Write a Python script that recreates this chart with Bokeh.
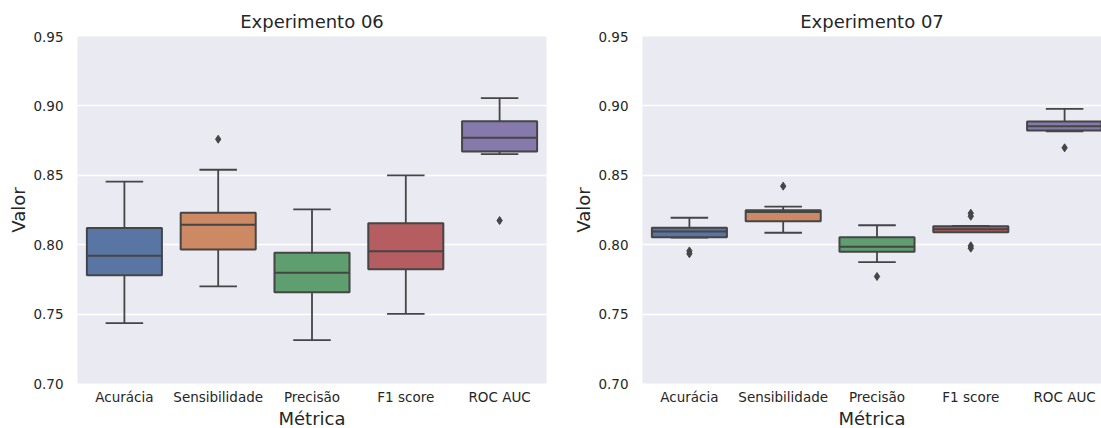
from bokeh.plotting import figure
from bokeh.layouts import row
from bokeh.models import FixedTicker, NumeralTickFormatter
from bokeh.embed import file_html
from bokeh.resources import INLINE

metrics = ["Acurácia", "Sensibilidade", "Precisão", "F1 score", "ROC AUC"]
colors = ["#5975A4", "#CC8963", "#5F9E6E", "#B55D60", "#857AAB"]
yticks = [0.70, 0.75, 0.80, 0.85, 0.90, 0.95]

# Experimento 06 box statistics
e06_lo = [0.7435, 0.770, 0.7312, 0.7502, 0.8652]
e06_q1 = [0.778, 0.7965, 0.7658, 0.7824, 0.8671]
e06_med = [0.792, 0.8143, 0.7798, 0.7953, 0.877]
e06_q3 = [0.812, 0.823, 0.7942, 0.8155, 0.889]
e06_hi = [0.8455, 0.854, 0.8254, 0.8499, 0.9056]
e06_out_metric = [1, 4]
e06_out_value = [0.876, 0.8174]

# Experimento 07 box statistics
e07_lo = [0.8052, 0.8086, 0.7874, 0.809, 0.8816]
e07_q1 = [0.8054, 0.8169, 0.7949, 0.809, 0.8823]
e07_med = [0.8095, 0.8235, 0.7985, 0.8112, 0.8854]
e07_q3 = [0.8122, 0.8249, 0.8054, 0.8133, 0.8888]
e07_hi = [0.8194, 0.8275, 0.814, 0.8136, 0.8979]
e07_out_metric = [0, 0, 1, 2, 3, 3, 3, 3, 4]
e07_out_value = [0.7955, 0.7935, 0.8422, 0.7771, 0.8227, 0.8205, 0.7992, 0.7975, 0.8698]

FONT = "DejaVu Sans"
TXT = "#262626"
LINE = "#454545"
BOXW = 0.8


def make(title, lo, q1, med, q3, hi, out_m, out_v, frame_w, x_end, border_left, border_right):
    p = figure(frame_width=frame_w, frame_height=347, x_range=(-0.5, x_end), y_range=(0.70, 0.95),
               output_backend="svg", toolbar_location=None,
               min_border_left=border_left, min_border_right=border_right,
               min_border_top=36, min_border_bottom=45)
    p.background_fill_color = "#EAEAF2"
    p.border_fill_color = "white"
    p.outline_line_color = None
    p.title.text = title
    p.title.align = "center"
    p.title.text_font = FONT
    p.title.text_font_size = "18px"
    p.title.text_font_style = "normal"
    p.title.text_color = TXT

    xs = list(range(len(metrics)))
    p.segment(x0=xs, x1=xs, y0=q3, y1=hi, line_color=LINE, line_width=1.8)
    p.segment(x0=xs, x1=xs, y0=q1, y1=lo, line_color=LINE, line_width=1.8)
    p.segment(x0=[x - BOXW / 4 for x in xs], x1=[x + BOXW / 4 for x in xs], y0=hi, y1=hi,
              line_color=LINE, line_width=1.8)
    p.segment(x0=[x - BOXW / 4 for x in xs], x1=[x + BOXW / 4 for x in xs], y0=lo, y1=lo,
              line_color=LINE, line_width=1.8)
    p.vbar(x=xs, width=BOXW, bottom=q1, top=q3, fill_color=colors, line_color=LINE, line_width=2)
    p.segment(x0=[x - BOXW / 2 for x in xs], x1=[x + BOXW / 2 for x in xs], y0=med, y1=med,
              line_color=LINE, line_width=2)
    p.scatter(x=out_m, y=out_v, marker="diamond", size=8, fill_color=LINE, line_color=LINE)

    p.xgrid.grid_line_color = None
    p.ygrid.grid_line_color = "white"
    p.ygrid.grid_line_width = 1.3
    p.yaxis.ticker = FixedTicker(ticks=yticks)
    p.yaxis.formatter = NumeralTickFormatter(format="0.00")
    p.xaxis.ticker = FixedTicker(ticks=xs)
    p.xaxis.major_label_overrides = {i: m for i, m in enumerate(metrics)}
    for ax in (p.xaxis[0], p.yaxis[0]):
        ax.axis_line_color = None
        ax.major_tick_line_color = None
        ax.minor_tick_line_color = None
        ax.major_tick_out = 0
        ax.major_tick_in = 0
        ax.minor_tick_out = 0
        ax.minor_tick_in = 0
        ax.major_label_text_font = FONT
        ax.major_label_text_font_size = "13.5px"
        ax.major_label_text_color = TXT
        ax.axis_label_text_font = FONT
        ax.axis_label_text_font_size = "18px"
        ax.axis_label_text_font_style = "normal"
        ax.axis_label_text_color = TXT
    p.xaxis.axis_label = "Métrica"
    p.yaxis.axis_label = "Valor"
    p.xaxis.major_label_standoff = 5
    p.xaxis.axis_label_standoff = 0
    p.yaxis.major_label_standoff = 14
    p.yaxis.axis_label_standoff = 1
    return p


p1 = make("Experimento 06", e06_lo, e06_q1, e06_med, e06_q3, e06_hi, e06_out_metric, e06_out_value,
          469, 4.5, 77, 14)
p2 = make("Experimento 07", e07_lo, e07_q1, e07_med, e07_q3, e07_hi, e07_out_metric, e07_out_value,
          459, -0.5 + 459 / (469 / 5), 82, 0)

layout = row(p1, p2)
open("out.html", "w").write(file_html(layout, INLINE))
